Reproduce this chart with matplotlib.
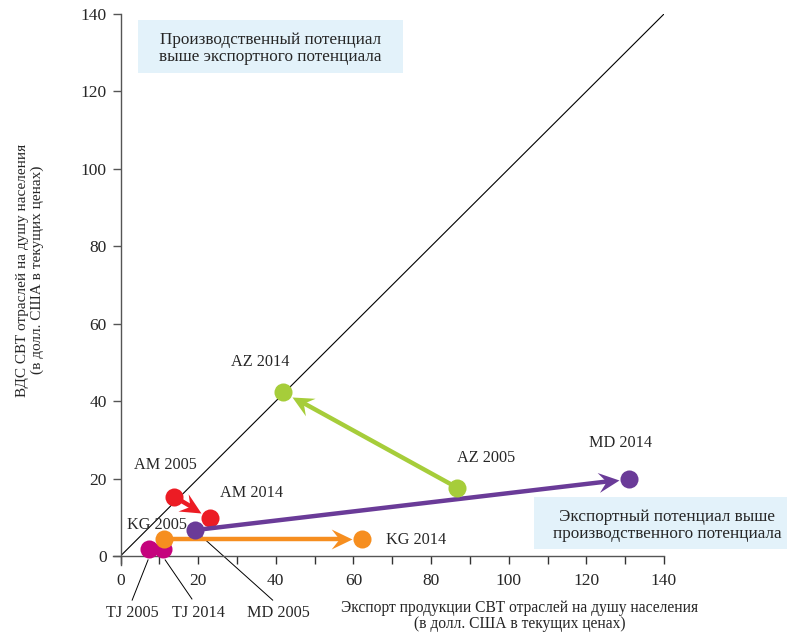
import numpy as np
import matplotlib
matplotlib.use("Agg")
import matplotlib.pyplot as plt
from matplotlib.path import Path
from matplotlib.markers import MarkerStyle
from matplotlib.transforms import Affine2D
from matplotlib.patches import Rectangle

# ---------------- data ----------------
countries = ["TJ", "KG", "AM", "MD", "AZ"]
export_2005 = [7.3, 11.3, 13.9, 19.3, 86.8]
export_2014 = [10.9, 62.1, 23.0, 130.9, 41.9]
gva_2005 = [1.8, 4.3, 15.3, 6.7, 17.6]
gva_2014 = [1.8, 4.3, 9.9, 19.9, 42.4]
has_arrow = [False, True, True, True, True]
x_ticks = [0, 20, 40, 60, 80, 100, 120, 140]
y_ticks = [0, 20, 40, 60, 80, 100, 120, 140]

colors = {"TJ": "#c5037d", "KG": "#f68e1f", "AM": "#ec1c24",
          "MD": "#6a3b98", "AZ": "#a6cd3a"}

# label offsets (layout only): (x, y) in data units
label_pos = {
    ("AZ", 2014): (36.1, 50.1), ("AZ", 2005): (94.3, 25.4),
    ("MD", 2014): (128.7, 29.2), ("MD", 2005): (40.6, -14.7),
    ("AM", 2005): (11.6, 23.5), ("AM", 2014): (33.8, 16.2),
    ("KG", 2005): (9.3, 8.0), ("KG", 2014): (76.2, 4.1),
    ("TJ", 2005): (3.0, -14.8), ("TJ", 2014): (20.2, -14.7),
}
leaders = {
    ("TJ", 2005): ((7.1, -1.0), (3.0, -11.4)),
    ("TJ", 2014): ((11.5, -1.0), (18.4, -11.1)),
    ("MD", 2005): ((20.5, 5.4), (39.2, -11.4)),
}

FONT = "Liberation Serif"
plt.rcParams["font.family"] = [FONT, "DejaVu Serif"]
TXT = "#262626"

fig = plt.figure(figsize=(7.87, 6.37), dpi=100)
ax = fig.add_axes([120.5 / 787, 81 / 637, 543.5 / 787, 542 / 637])
ax.patch.set_visible(False)
ax.set_zorder(2)
ax.set_xlim(0, 140)
ax.set_ylim(0, 140)
for s in ["top", "right"]:
    ax.spines[s].set_visible(False)
for s in ["left", "bottom"]:
    ax.spines[s].set_color("#555555")
    ax.spines[s].set_linewidth(1.0)
ax.spines["bottom"].set_bounds(-2, 140)
ax.spines["left"].set_bounds(-2.3, 140)
ax.set_xticks(x_ticks)
ax.set_xticks(np.arange(10, 140, 20), minor=True)
ax.set_yticks(y_ticks)
ax.tick_params(axis="x", which="both", direction="out", length=6, width=1,
               color="#333333", labelsize=12.5, labelcolor=TXT, pad=6)
ax.tick_params(axis="y", direction="out", length=6, width=1,
               color="#555555", labelsize=12.5, labelcolor=TXT, pad=4)

# diagonal
ax.plot([0, 140], [0, 140], color="black", lw=0.8, zorder=1)

# arrow head marker
head = Path([(0, 0), (-1, 0.48), (-0.62, 0), (-1, -0.48), (0, 0)],
            [Path.MOVETO, Path.LINETO, Path.LINETO, Path.LINETO, Path.CLOSEPOLY])

dot_r_px = 9.0
for i, c in enumerate(countries):
    col = colors[c]
    x0, y0, x1, y1 = export_2005[i], gva_2005[i], export_2014[i], gva_2014[i]
    z = 3 + i
    if has_arrow[i]:
        p0 = ax.transData.transform((x0, y0))
        p1 = ax.transData.transform((x1, y1))
        d = p1 - p0
        L = np.hypot(*d)
        u = d / L
        tip = p1 - u * (dot_r_px + 1)
        tip_d = ax.transData.inverted().transform(tip)
        back = ax.transData.inverted().transform(tip - u * 10)
        ax.plot([x0, back[0]], [y0, back[1]], color=col, lw=3.2,
                solid_capstyle="butt", zorder=z)
        ang = np.degrees(np.arctan2(d[1], d[0]))
        ms = MarkerStyle(head, transform=Affine2D().rotate_deg(ang))
        ax.plot([tip_d[0]], [tip_d[1]], marker=ms, markersize=30,
                color=col, markeredgewidth=0, linestyle="none", zorder=z)
    ax.plot([x0, x1], [y0, y1], "o", color=col, markersize=13,
            markeredgewidth=0, linestyle="none", zorder=z + 0.5, clip_on=False)

for (c, yr), (lx, ly) in label_pos.items():
    ax.text(lx, ly, f"{c} {yr}", ha="center", va="center", fontsize=11.7,
            color=TXT, clip_on=False, zorder=10)
for key, (a, b) in leaders.items():
    ax.plot([a[0], b[0]], [a[1], b[1]], color="black", lw=0.7,
            clip_on=False, zorder=2)

# boxes
box_col = "#e3f2fa"
fig.add_artist(Rectangle((138 / 787, 1 - 72.7 / 637), (403 - 138) / 787,
                         52.7 / 637, transform=fig.transFigure,
                         facecolor=box_col, edgecolor="none", zorder=0))
fig.text(270.5 / 787, 1 - 48.5 / 637,
         "Производственный потенциал\nвыше экспортного потенциала",
         ha="center", va="center", fontsize=12.3, color=TXT, linespacing=1.1,
         zorder=1)
fig.add_artist(Rectangle((534 / 787, 1 - 549 / 637), (787 - 534) / 787,
                         52 / 637, transform=fig.transFigure,
                         facecolor=box_col, edgecolor="none", zorder=0))
fig.text(667 / 787, 1 - 525.5 / 637,
         "Экспортный потенциал выше\nпроизводственного потенциала",
         ha="center", va="center", fontsize=12.3, color=TXT, linespacing=1.1,
         zorder=1)

# axis titles
fig.text(30 / 787, 1 - 270 / 637,
         "ВДС СВТ отраслей на душу населения\n(в долл. США в текущих ценах)",
         ha="center", va="center", rotation=90, fontsize=11, color=TXT,
         linespacing=1.1)
fig.text(520 / 787, 1 - 616 / 637,
         "Экспорт продукции СВТ отраслей на душу населения\n(в долл. США в текущих ценах)",
         ha="center", va="center", fontsize=11.2, color=TXT, linespacing=1.05)

fig.savefig("out.png", dpi=100)
